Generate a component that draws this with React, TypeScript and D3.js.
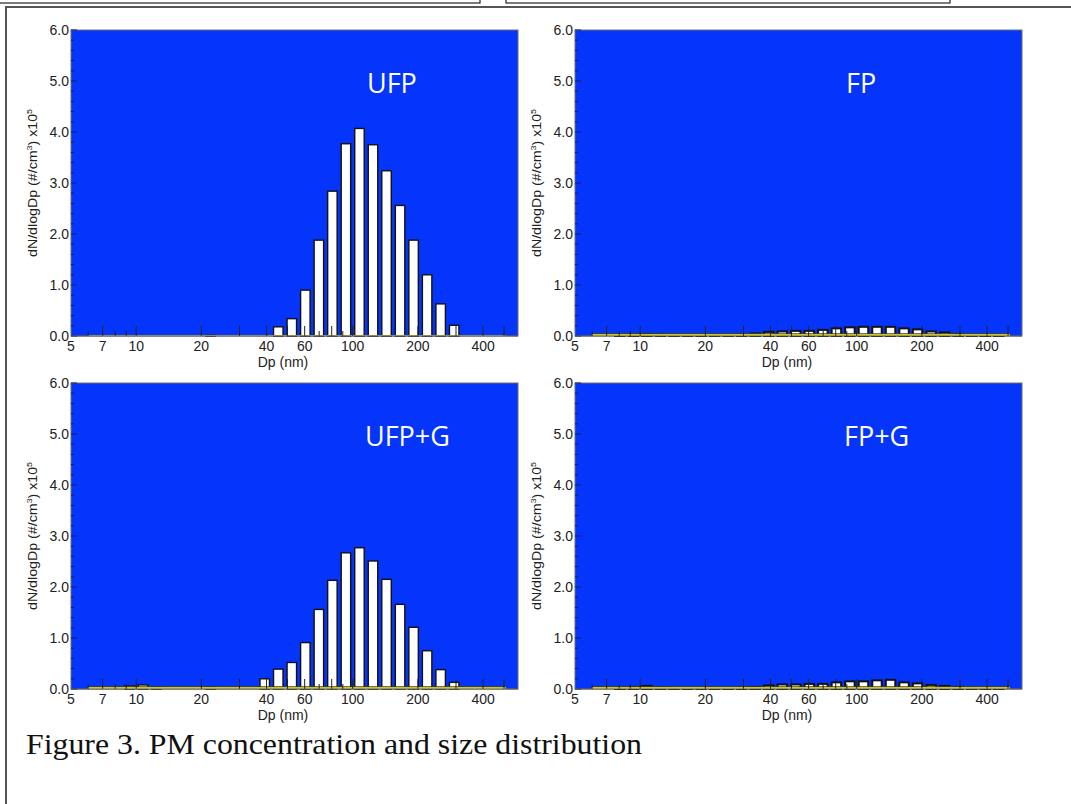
import React from "react";
import * as d3 from "d3";

// bin midpoints (nm), 16 channels per decade
const diameters = [
  6.04, 6.98, 8.06, 9.31, 10.75, 12.41, 14.33, 16.55, 19.11, 22.07, 25.48,
  29.43, 33.98, 39.24, 45.32, 52.33, 60.43, 69.78, 80.58, 93.05, 107.46,
  124.09, 143.3, 165.48, 191.09, 220.67, 254.83, 294.27, 339.82, 392.42, 453.16,
];

// dN/dlogDp x10^5 per bin
const ufp = [
  0, 0, 0, 0, 0, 0, 0, 0, 0, 0.01, 0, 0, 0, 0,
  0.18, 0.34, 0.9, 1.88, 2.84, 3.77, 4.07, 3.75, 3.24, 2.56, 1.88, 1.2, 0.63, 0.21,
  0, 0, 0,
];
const fp = [
  0, 0, 0.02, 0.03, 0.04, 0.03, 0.01, 0.01, 0.01, 0.01, 0.01, 0.02, 0.05, 0.08,
  0.09, 0.1, 0.1, 0.12, 0.15, 0.17, 0.18, 0.18, 0.18, 0.15, 0.13, 0.09, 0.07, 0.04,
  0.02, 0.01, 0.01,
];
const ufpG = [
  0, 0, 0, 0.06, 0.08, 0.03, 0, 0, 0, 0.03, 0, 0, 0, 0.2,
  0.39, 0.52, 0.91, 1.56, 2.13, 2.67, 2.77, 2.51, 2.15, 1.66, 1.21, 0.75, 0.38, 0.13,
  0, 0, 0,
];
const fpG = [
  0, 0, 0.02, 0.04, 0.06, 0.03, 0.01, 0.01, 0.01, 0.01, 0.01, 0.02, 0.04, 0.07,
  0.09, 0.09, 0.1, 0.1, 0.13, 0.15, 0.15, 0.17, 0.18, 0.13, 0.11, 0.08, 0.06, 0.04,
  0.02, 0.01, 0.01,
];

const panelLabels = ["UFP", "FP", "UFP+G", "FP+G"];
const panelValues = [ufp, fp, ufpG, fpG];
// yellow background series (level, x10^5) spanning blankRange
const blankLevels = [0.02, 0.045, 0.045, 0.045];
const blankRange = [6, 510];

const yTicks = [0, 1, 2, 3, 4, 5, 6];
const xTickLabels = [5, 7, 10, 20, 40, 60, 100, 200, 400];
const xMajorTicks = [7, 10, 20, 30, 40, 50, 60, 80, 100, 200, 300, 400, 500];
const xMinorTicks = [6, 8, 9, 70, 90];

const W = 447;
const H = 306;
const origins = [
  [71, 30],
  [575, 30],
  [71, 383],
  [575, 383],
];
const labelPos = [
  [367, 93],
  [846, 93],
  [365, 446],
  [844, 446],
];

const tickFont = "'Liberation Sans Narrow', 'Arial Narrow', 'Liberation Sans', Arial, sans-serif";

function Panel({ idx }: { idx: number }) {
  const [ox, oy] = origins[idx];
  const values = panelValues[idx];
  const x = d3.scaleLog().domain([5, 580]).range([0, W]);
  const y = d3.scaleLinear().domain([0, 6]).range([H, 0]);
  const half = Math.pow(10, (0.7 * 0.5) / 16);
  const minorY = d3.range(0, 6.001, 0.2);

  return (
    <g transform={`translate(${ox},${oy})`}>
      <rect x={0} y={0} width={W} height={H} fill="#0535fb" stroke="#707070" strokeWidth={1} />
      {/* bars */}
      {values.map((v, i) =>
        v > 0 ? (
          <rect
            key={i}
            x={x(diameters[i] / half)}
            y={y(v)}
            width={x(diameters[i] * half) - x(diameters[i] / half)}
            height={y(0) - y(v)}
            fill="#ffffff"
            stroke="#111"
            strokeWidth={idx % 2 === 1 ? 2 : 1.4}
          />
        ) : null
      )}
      {/* yellow blank series */}
      <rect
        x={x(blankRange[0])}
        y={y(blankLevels[idx])}
        width={x(blankRange[1]) - x(blankRange[0])}
        height={y(0) - y(blankLevels[idx])}
        fill={idx === 0 ? "#c9c24a" : "#ece62a"}
      />
      <line
        x1={x(blankRange[0])}
        x2={x(blankRange[1])}
        y1={y(blankLevels[idx])}
        y2={y(blankLevels[idx])}
        stroke="#222"
        strokeWidth={idx === 0 ? 0 : 0.8}
      />
      {/* inner ticks */}
      {minorY.map((t, i) => (
        <line key={"ym" + i} x1={0} x2={Math.abs(t - Math.round(t)) < 0.01 ? 6 : 3} y1={y(t)} y2={y(t)} stroke="#1a1a60" strokeWidth={1} />
      ))}
      {xMajorTicks.map((t) => (
        <line key={"xM" + t} x1={x(t)} x2={x(t)} y1={H} y2={H - 10} stroke="#222" strokeWidth={1} />
      ))}
      {xMinorTicks.map((t) => (
        <line key={"xm" + t} x1={x(t)} x2={x(t)} y1={H} y2={H - 5} stroke="#222" strokeWidth={1} />
      ))}
      <line x1={0} x2={W} y1={H} y2={H} stroke="#555" strokeWidth={1.2} />
      {/* y labels */}
      {yTicks.map((t) => (
        <text key={"yl" + t} x={-2} y={y(t) + 4.5} textAnchor="end" fontFamily={tickFont} fontSize={14} fill="#222">
          {d3.format(".1f")(t)}
        </text>
      ))}
      {/* x labels */}
      {xTickLabels.map((t) => (
        <text key={"xl" + t} x={x(t)} y={H + 15} textAnchor="middle" fontFamily={tickFont} fontSize={14} fill="#222">
          {t}
        </text>
      ))}
      <text x={212} y={H + 31} textAnchor="middle" fontFamily="'Liberation Sans', Arial, sans-serif" fontSize={14} fill="#222">
        Dp (nm)
      </text>
      <text
        transform={`translate(-34,${H / 2}) rotate(-90)`}
        textAnchor="middle"
        fontFamily="'Liberation Sans', Arial, sans-serif"
        fontSize={13}
        fill="#222"
        textLength={148}
        lengthAdjust="spacingAndGlyphs"
      >
        dN/dlogDp (#/cm<tspan fontSize={8} dy={-5}>3</tspan>
        <tspan dy={5}>) x10</tspan>
        <tspan fontSize={8} dy={-5}>5</tspan>
      </text>
    </g>
  );
}

export default function App() {
  return (
    <svg width={1071} height={804} style={{ position: "absolute", left: 0, top: 0, background: "#fff" }}>
      <rect x={0} y={0} width={1071} height={804} fill="#fff" />
      {/* page boxes and frame */}
      <rect x={-5} y={-20} width={485} height={23} fill="none" stroke="#222" strokeWidth={1.2} />
      <rect x={506} y={-20} width={444} height={23} fill="none" stroke="#222" strokeWidth={1.2} />
      <path d="M6,810 L6,7 L1080,7" fill="none" stroke="#555" strokeWidth={2} />
      {panelLabels.map((_, i) => (
        <Panel key={i} idx={i} />
      ))}
      {panelLabels.map((lab, i) => (
        <text key={lab} x={labelPos[i][0]} y={labelPos[i][1]} fontFamily="'Open Sans', sans-serif" fontSize={27} fill="#fff">
          {lab}
        </text>
      ))}
      <text
        x={26}
        y={754}
        fontFamily="'Liberation Serif', 'Times New Roman', serif"
        fontSize={29}
        fill="#111"
        textLength={616}
        lengthAdjust="spacingAndGlyphs"
      >
        Figure 3. PM concentration and size distribution
      </text>
    </svg>
  );
}
